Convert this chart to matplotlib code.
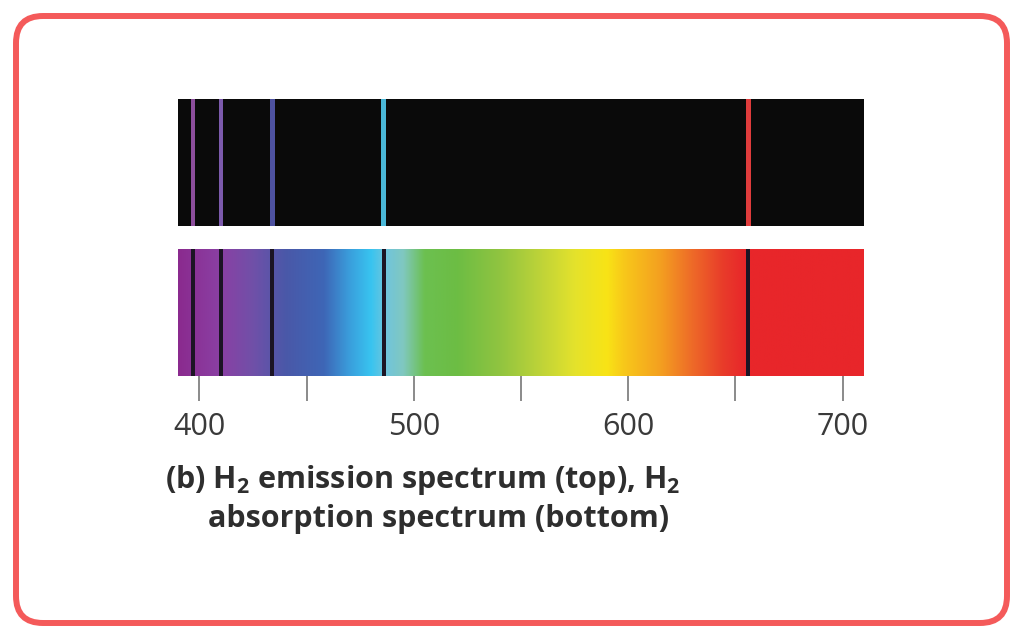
import numpy as np
import matplotlib.pyplot as plt
from matplotlib.colors import LinearSegmentedColormap
from matplotlib.patches import FancyBboxPatch

plt.rcParams['mathtext.default'] = 'regular'

# hydrogen lines (nm) and the colour each one glows in the emission strip
line_nm = [397, 410, 434, 486, 656]
line_colors = ['#8c4e9c', '#7c5aac', '#4e52a0', '#4ab8d8', '#e03c3c']

# colour stops of the continuous spectrum (nm, colour)
stop_nm = [390, 397, 410, 425, 440, 458, 470, 480, 487, 495, 505, 520,
           540, 560, 575, 590, 598, 615, 630, 645, 655, 710]
stop_colors = ['#8a2a8e', '#8a3296', '#8a40a4', '#7050a8', '#4a58a8', '#3e66b6',
               '#3a9edc', '#38c4f0', '#70c4dc', '#80c8c0', '#6cc050', '#6cbd44',
               '#90c440', '#c0d438', '#e4e22c', '#f8e416', '#f8c81a', '#f4a020',
               '#ee6a28', '#e83a2a', '#e8262a', '#e8262a']

tick_nm = [400, 450, 500, 550, 600, 650, 700]
tick_labels = ['400', '', '500', '', '600', '', '700']

caption1 = '(b) H$_2$ emission spectrum (top), H$_2$'
caption2 = 'absorption spectrum (bottom)'

xmin, xmax = 390, 710
W, H = 1024, 640

fig = plt.figure(figsize=(W / 100, H / 100), dpi=100)

# rounded red frame, drawn in inches so the corners stay round
frame = FancyBboxPatch((16 / 100, 17 / 100), (1007 - 16) / 100, (624 - 17) / 100,
                       boxstyle='round,pad=0,rounding_size=0.27',
                       transform=fig.dpi_scale_trans, facecolor='none',
                       edgecolor='#f45a5a', linewidth=4.3)
fig.patches.append(frame)

left, width = 178 / W, 686 / W
top_ax = fig.add_axes([left, 1 - 226 / H, width, 127 / H])
bot_ax = fig.add_axes([left, 1 - 376 / H, width, 127 / H])

# emission spectrum: black with coloured lines
top_ax.set_facecolor('#0a0a0a')
for nm, c in zip(line_nm, line_colors):
    top_ax.axvspan(nm - 1.1, nm + 1.1, color=c, lw=0)
top_ax.set_xlim(xmin, xmax)
top_ax.set_ylim(0, 1)
top_ax.set_xticks([])
top_ax.set_yticks([])
for s in top_ax.spines.values():
    s.set_visible(False)

# absorption spectrum: rainbow with dark lines
pos = [(n - xmin) / (xmax - xmin) for n in stop_nm]
cmap = LinearSegmentedColormap.from_list('spec', list(zip(pos, stop_colors)), N=1024)
grad = np.linspace(0, 1, 1024).reshape(1, -1)
bot_ax.imshow(grad, cmap=cmap, aspect='auto', extent=(xmin, xmax, 0, 1),
              interpolation='bilinear')
for nm in line_nm:
    bot_ax.axvspan(nm - 0.9, nm + 0.9, color='#1c1424', lw=0)
bot_ax.set_xlim(xmin, xmax)
bot_ax.set_ylim(0, 1)
bot_ax.set_yticks([])
bot_ax.set_xticks(tick_nm)
bot_ax.set_xticklabels(tick_labels, fontsize=22, color='#3a3a3a', family='Open Sans')
bot_ax.tick_params(axis='x', direction='out', length=18, width=1.2,
                   color='#777777', pad=8)
for s in bot_ax.spines.values():
    s.set_visible(False)

fig.text(165 / W, 1 - 488 / H, caption1, fontsize=22, fontweight='bold',
         family='Open Sans', color='#2e2e2e', va='baseline')
fig.text(208 / W, 1 - 527 / H, caption2, fontsize=22, fontweight='bold',
         family='Open Sans', color='#2e2e2e', va='baseline')

fig.savefig('out.png', dpi=100, facecolor='white')
